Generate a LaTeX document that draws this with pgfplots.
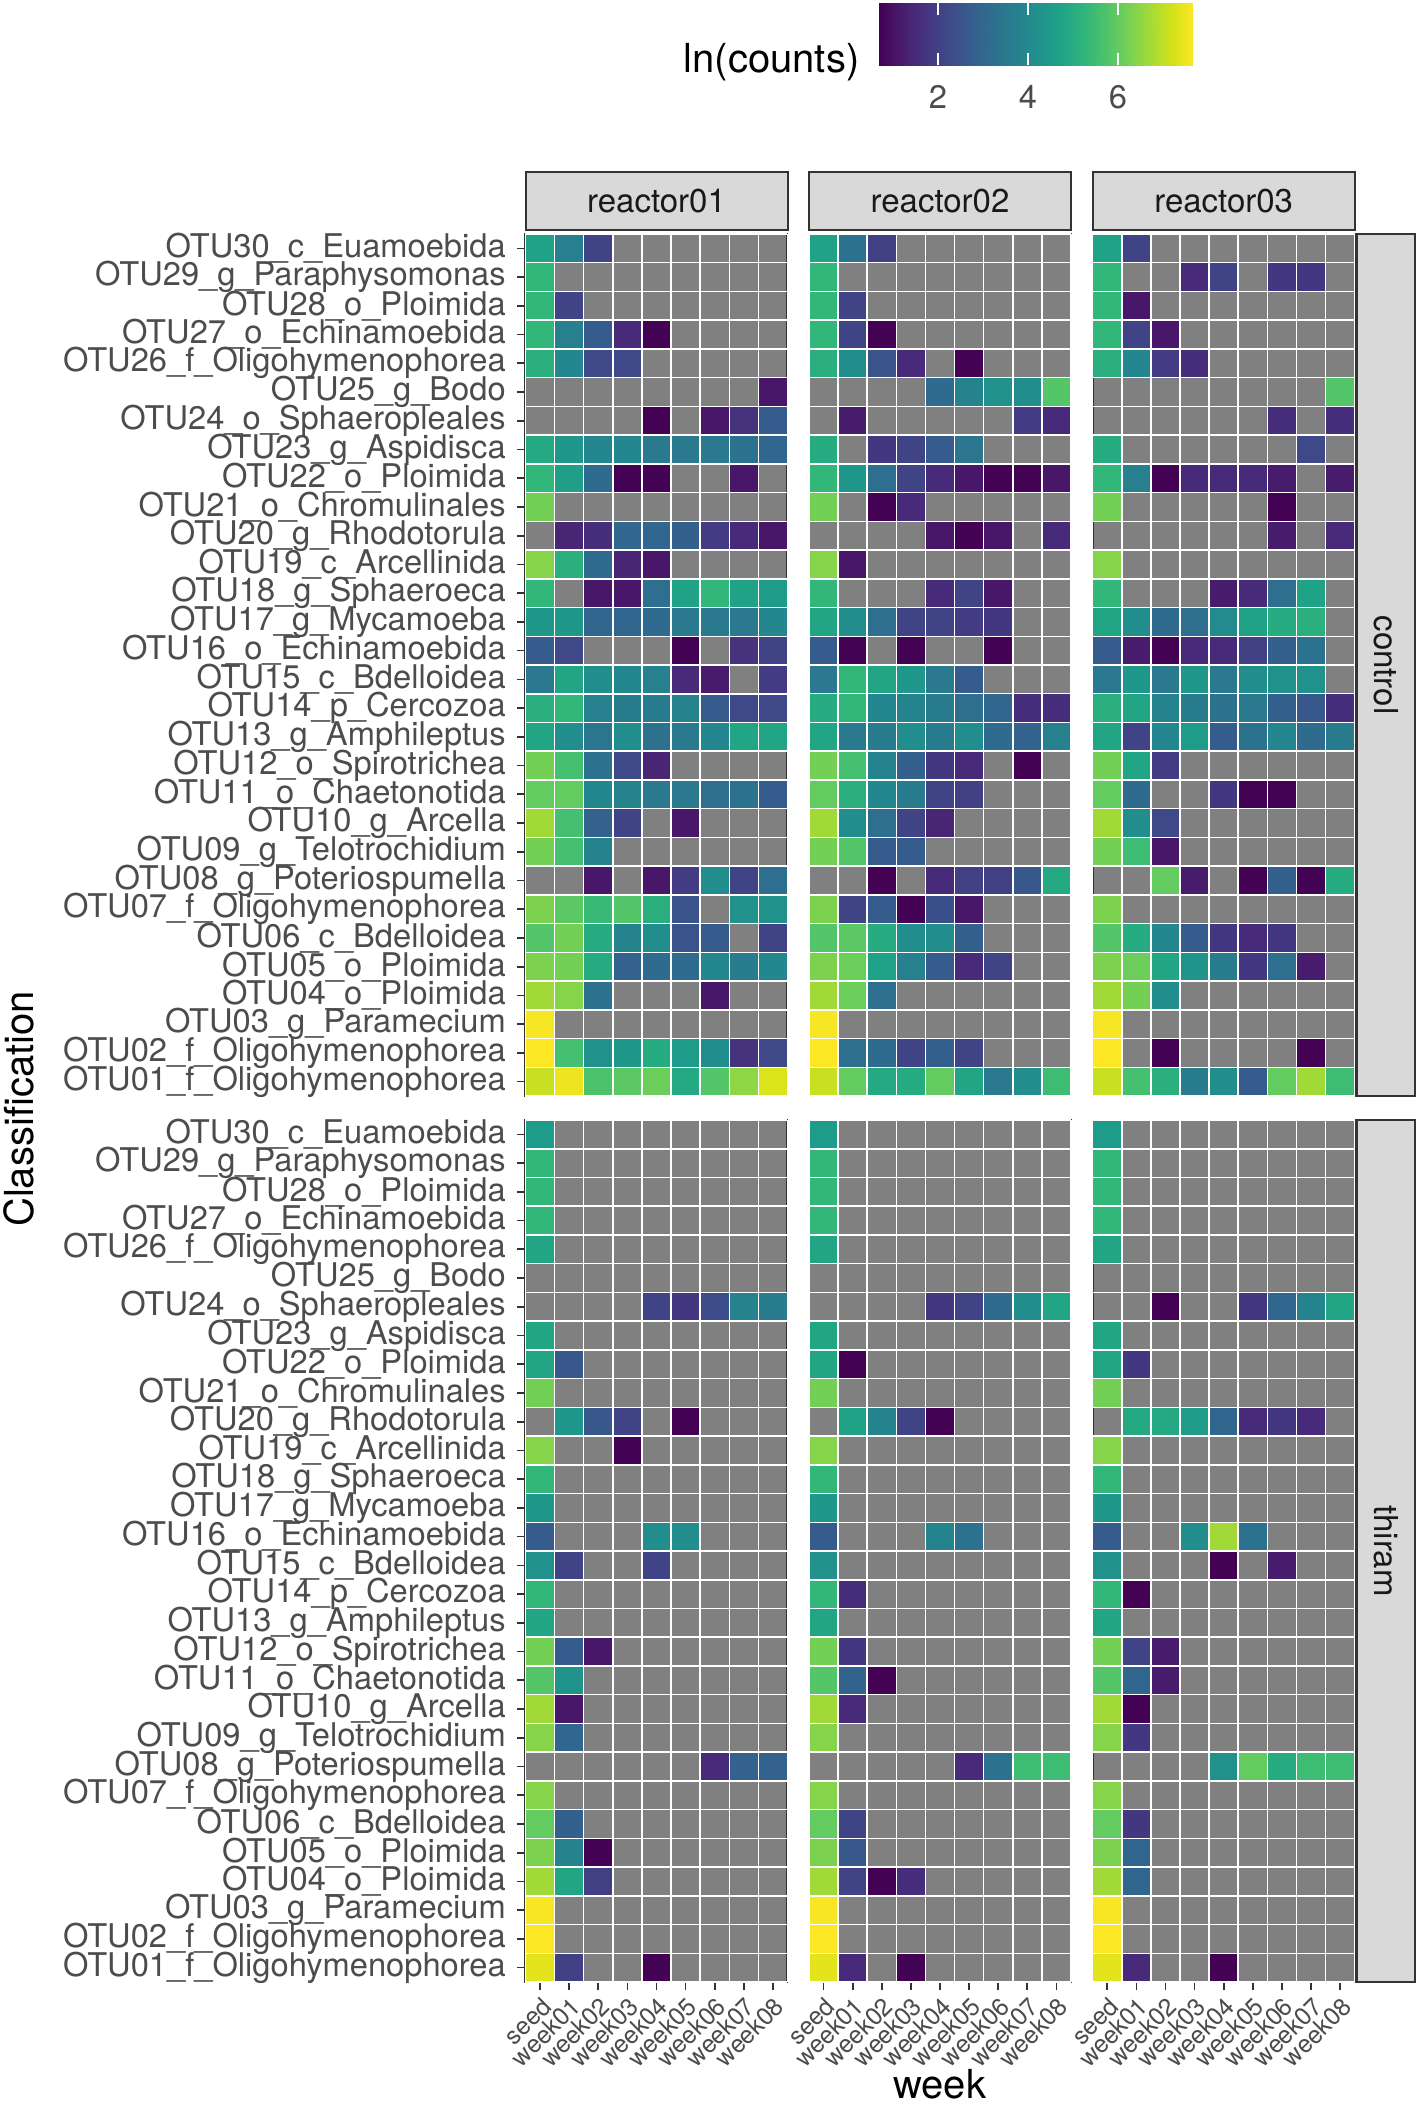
\documentclass[border=0pt]{standalone}
\usepackage{pgfplots}
\pgfplotsset{compat=1.18}
\usepackage{fontspec}
\setmainfont{TeX Gyre Heros}

\pgfdeclareplotmark{cell}{%
  \pgfpathrectangle{\pgfpoint{-4.3667pt}{-4.31pt}}{\pgfpoint{8.7333pt}{8.62pt}}%
  \pgfusepathqfillstroke}

\pgfplotsset{
  panel/.style={
    scale only axis, width=78.6pt, height=258.6pt,
    xmin=-0.5, xmax=8.5, ymin=0.5, ymax=30.5,
    point meta min=0.69, point meta max=7.67,
    colormap name=viridis,
    axis background/.style={fill=black!50},
    extra x ticks={-0.5,0.5,1.5,2.5,3.5,4.5,5.5,6.5,7.5,8.5},
    extra y ticks={0.5,1.5,2.5,3.5,4.5,5.5,6.5,7.5,8.5,9.5,10.5,11.5,12.5,13.5,14.5,15.5,16.5,17.5,18.5,19.5,20.5,21.5,22.5,23.5,24.5,25.5,26.5,27.5,28.5,29.5,30.5},
    extra x tick labels={}, extra y tick labels={},
    extra tick style={grid=major, major grid style={white, line width=0.45pt}, major tick length=0pt},
    xtick={0,...,8}, ytick={1,...,30},
    xtick pos=left, ytick pos=left,
    tick align=outside, major tick length=2.4pt,
    major tick style={black!80, line width=0.5pt},
    axis line style={black!80, line width=0.6pt},
    yticklabel style={font=\fontsize{9.8}{11}\selectfont, text=black!70},
    xticklabel style={font=\fontsize{7.4}{8}\selectfont, text=black!70, rotate=45, anchor=north east, inner sep=1pt},
    xticklabels={seed,week01,week02,week03,week04,week05,week06,week07,week08},
  },
  otulabels/.style={yticklabels={OTU01\_f\_Oligohymenophorea,OTU02\_f\_Oligohymenophorea,OTU03\_g\_Paramecium,OTU04\_o\_Ploimida,OTU05\_o\_Ploimida,OTU06\_c\_Bdelloidea,OTU07\_f\_Oligohymenophorea,OTU08\_g\_Poteriospumella,OTU09\_g\_Telotrochidium,OTU10\_g\_Arcella,OTU11\_o\_Chaetonotida,OTU12\_o\_Spirotrichea,OTU13\_g\_Amphileptus,OTU14\_p\_Cercozoa,OTU15\_c\_Bdelloidea,OTU16\_o\_Echinamoebida,OTU17\_g\_Mycamoeba,OTU18\_g\_Sphaeroeca,OTU19\_c\_Arcellinida,OTU20\_g\_Rhodotorula,OTU21\_o\_Chromulinales,OTU22\_o\_Ploimida,OTU23\_g\_Aspidisca,OTU24\_o\_Sphaeropleales,OTU25\_g\_Bodo,OTU26\_f\_Oligohymenophorea,OTU27\_o\_Echinamoebida,OTU28\_o\_Ploimida,OTU29\_g\_Paraphysomonas,OTU30\_c\_Euamoebida}},
  tilecells/.style={scatter, only marks, mark=cell, point meta=explicit,
    scatter/use mapped color={draw=white, fill=mapped color},
    mark options={line width=0.45pt}},
}

\begin{document}
\begin{tikzpicture}
\path (0,0) rectangle (425.4pt,-632.4pt);

% ---------------- control, reactor01
\begin{axis}[panel, at={(157.65pt,-70.2pt)}, anchor=north west, xtick=\empty, otulabels]
\addplot[tilecells] coordinates {
(0,30)[4.7] (1,30)[3.7] (2,30)[2.1]
(0,29)[5.3]
(0,28)[5.3] (1,28)[2.1]
(0,27)[5.3] (1,27)[3.7] (2,27)[2.7] (3,27)[1.5] (4,27)[0.7]
(0,26)[5.1] (1,26)[3.9] (2,26)[2.2] (3,26)[2.2]
(8,25)[1.1]
(4,24)[0.7] (6,24)[1.1] (7,24)[1.7] (8,24)[2.7]
(0,23)[4.9] (1,23)[4.4] (2,23)[3.9] (3,23)[3.9] (4,23)[3.5] (5,23)[3.5] (6,23)[3.5] (7,23)[3.3] (8,23)[3.0]
(0,22)[5.3] (1,22)[4.6] (2,22)[3.1] (3,22)[0.7] (4,22)[0.7] (7,22)[1.1]
(0,21)[6.2]
(1,20)[1.4] (2,20)[1.6] (3,20)[3.0] (4,20)[3.0] (5,20)[2.8] (6,20)[1.9] (7,20)[1.5] (8,20)[1.1]
(0,19)[6.4] (1,19)[5.1] (2,19)[3.1] (3,19)[1.4] (4,19)[1.1]
(0,18)[5.3] (2,18)[1.1] (3,18)[1.1] (4,18)[3.2] (5,18)[4.7] (6,18)[5.3] (7,18)[4.7] (8,18)[4.5]
(0,17)[4.4] (1,17)[4.4] (2,17)[3.0] (3,17)[3.0] (4,17)[3.1] (5,17)[3.5] (6,17)[3.5] (7,17)[3.5] (8,17)[3.9]
(0,16)[2.7] (1,16)[2.2] (5,16)[0.7] (7,16)[1.7] (8,16)[2.1]
(0,15)[3.5] (1,15)[4.8] (2,15)[4.1] (3,15)[3.9] (4,15)[3.7] (5,15)[1.5] (6,15)[1.2] (8,15)[1.9]
(0,14)[5.1] (1,14)[5.3] (2,14)[3.7] (3,14)[3.6] (4,14)[3.6] (5,14)[3.8] (6,14)[2.7] (7,14)[2.2] (8,14)[2.2]
(0,13)[4.8] (1,13)[4.1] (2,13)[3.4] (3,13)[4.1] (4,13)[3.3] (5,13)[3.5] (6,13)[3.9] (7,13)[4.8] (8,13)[4.8]
(0,12)[6.2] (1,12)[5.6] (2,12)[3.3] (3,12)[2.2] (4,12)[1.4]
(0,11)[6.0] (1,11)[6.0] (2,11)[3.9] (3,11)[3.8] (4,11)[3.5] (5,11)[3.5] (6,11)[3.2] (7,11)[3.3] (8,11)[2.7]
(0,10)[6.7] (1,10)[5.6] (2,10)[2.9] (3,10)[2.1] (5,10)[1.1]
(0,9)[6.2] (1,9)[5.6] (2,9)[3.8]
(2,8)[1.1] (4,8)[1.1] (5,8)[1.9] (6,8)[4.1] (7,8)[2.1] (8,8)[3.2]
(0,7)[6.3] (1,7)[5.9] (2,7)[5.4] (3,7)[5.8] (4,7)[5.1] (5,7)[2.5] (7,7)[4.2] (8,7)[4.2]
(0,6)[5.8] (1,6)[6.2] (2,6)[5.0] (3,6)[3.8] (4,6)[4.1] (5,6)[2.5] (6,6)[2.7] (8,6)[2.1]
(0,5)[6.3] (1,5)[6.2] (2,5)[5.0] (3,5)[2.9] (4,5)[3.1] (5,5)[3.1] (6,5)[3.9] (7,5)[3.6] (8,5)[3.9]
(0,4)[6.7] (1,4)[6.4] (2,4)[3.3] (6,4)[1.1]
(0,3)[7.6]
(0,2)[7.7] (1,2)[5.6] (2,2)[4.2] (3,2)[4.4] (4,2)[5.0] (5,2)[4.5] (6,2)[4.1] (7,2)[1.7] (8,2)[2.2]
(0,1)[7.1] (1,1)[7.5] (2,1)[5.7] (3,1)[5.9] (4,1)[6.1] (5,1)[4.9] (6,1)[5.8] (7,1)[6.5] (8,1)[7.3]
};
\end{axis}

% ---------------- control, reactor02
\begin{axis}[panel, at={(242.7pt,-70.2pt)}, anchor=north west, xtick=\empty, ytick=\empty]
\addplot[tilecells] coordinates {
(0,30)[4.7] (1,30)[3.3] (2,30)[2.0]
(0,29)[5.3]
(0,28)[5.3] (1,28)[2.1]
(0,27)[5.3] (1,27)[2.1] (2,27)[0.7]
(0,26)[5.1] (1,26)[4.1] (2,26)[2.5] (3,26)[1.5] (5,26)[0.7]
(4,25)[3.1] (5,25)[3.8] (6,25)[4.2] (7,25)[4.1] (8,25)[5.8]
(1,24)[1.2] (7,24)[1.9] (8,24)[1.5]
(0,23)[5.0] (2,23)[1.8] (3,23)[2.1] (4,23)[2.7] (5,23)[3.4]
(0,22)[5.3] (1,22)[4.4] (2,22)[3.2] (3,22)[2.1] (4,22)[1.5] (5,22)[1.1] (6,22)[0.7] (7,22)[0.7] (8,22)[1.1]
(0,21)[6.2] (2,21)[0.7] (3,21)[1.5]
(4,20)[1.1] (5,20)[0.7] (6,20)[1.1] (8,20)[1.5]
(0,19)[6.4] (1,19)[1.1]
(0,18)[5.3] (4,18)[1.5] (5,18)[2.1] (6,18)[1.1]
(0,17)[4.8] (1,17)[4.1] (2,17)[3.2] (3,17)[2.1] (4,17)[2.1] (5,17)[1.9] (6,17)[1.8]
(0,16)[2.7] (1,16)[0.7] (3,16)[0.7] (6,16)[0.7]
(0,15)[3.5] (1,15)[5.3] (2,15)[4.8] (3,15)[4.4] (4,15)[3.5] (5,15)[2.7]
(0,14)[5.0] (1,14)[5.3] (2,14)[3.9] (3,14)[3.8] (4,14)[3.6] (5,14)[3.2] (6,14)[3.0] (7,14)[1.6] (8,14)[1.6]
(0,13)[4.8] (1,13)[3.5] (2,13)[3.6] (3,13)[4.1] (4,13)[3.6] (5,13)[4.1] (6,13)[3.1] (7,13)[2.9] (8,13)[3.7]
(0,12)[6.2] (1,12)[5.6] (2,12)[3.8] (3,12)[2.8] (4,12)[1.8] (5,12)[1.5] (7,12)[0.7]
(0,11)[6.0] (1,11)[5.1] (2,11)[3.9] (3,11)[3.6] (4,11)[2.1] (5,11)[2.0]
(0,10)[6.7] (1,10)[4.1] (2,10)[3.2] (3,10)[2.1] (4,10)[1.4]
(0,9)[6.2] (1,9)[5.8] (2,9)[2.7] (3,9)[2.7]
(2,8)[0.7] (4,8)[1.5] (5,8)[2.0] (6,8)[2.0] (7,8)[2.6] (8,8)[4.9]
(0,7)[6.3] (1,7)[2.1] (2,7)[2.7] (3,7)[0.7] (4,7)[2.4] (5,7)[1.1]
(0,6)[5.8] (1,6)[5.9] (2,6)[5.0] (3,6)[4.1] (4,6)[4.1] (5,6)[2.8]
(0,5)[6.3] (1,5)[6.1] (2,5)[4.7] (3,5)[3.7] (4,5)[2.7] (5,5)[1.5] (6,5)[2.1]
(0,4)[6.7] (1,4)[6.1] (2,4)[3.2]
(0,3)[7.6]
(0,2)[7.7] (1,2)[3.2] (2,2)[3.1] (3,2)[2.1] (4,2)[2.8] (5,2)[2.1]
(0,1)[7.1] (1,1)[6.0] (2,1)[4.9] (3,1)[5.0] (4,1)[6.0] (5,1)[4.8] (6,1)[3.5] (7,1)[4.1] (8,1)[5.5]
};
\end{axis}

% ---------------- control, reactor03
\begin{axis}[panel, at={(327.8pt,-70.2pt)}, anchor=north west, xtick=\empty, ytick=\empty]
\addplot[tilecells] coordinates {
(0,30)[4.7] (1,30)[2.1]
(0,29)[5.3] (3,29)[1.5] (4,29)[2.1] (6,29)[1.8] (7,29)[1.8]
(0,28)[5.3] (1,28)[1.1]
(0,27)[5.3] (1,27)[2.1] (2,27)[1.1]
(0,26)[5.1] (1,26)[3.9] (2,26)[1.9] (3,26)[1.6]
(8,25)[5.8]
(6,24)[1.6] (8,24)[1.6]
(0,23)[5.0] (7,23)[2.2]
(0,22)[5.3] (1,22)[3.7] (2,22)[0.7] (3,22)[1.5] (4,22)[1.5] (5,22)[1.5] (6,22)[1.2] (8,22)[1.2]
(0,21)[6.2] (6,21)[0.7]
(6,20)[1.2] (8,20)[1.5]
(0,19)[6.4]
(0,18)[5.3] (4,18)[1.2] (5,18)[1.5] (6,18)[3.2] (7,18)[4.7]
(0,17)[4.8] (1,17)[4.1] (2,17)[3.1] (3,17)[3.2] (4,17)[4.0] (5,17)[4.7] (6,17)[5.0] (7,17)[5.1]
(0,16)[2.7] (1,16)[1.2] (2,16)[0.7] (3,16)[1.5] (4,16)[1.5] (5,16)[2.0] (6,16)[2.8] (7,16)[3.3]
(0,15)[3.5] (1,15)[4.4] (2,15)[3.5] (3,15)[4.4] (4,15)[3.5] (5,15)[4.1] (6,15)[4.2] (7,15)[4.2]
(0,14)[5.1] (1,14)[4.8] (2,14)[3.8] (3,14)[3.6] (4,14)[3.3] (5,14)[3.5] (6,14)[2.8] (7,14)[2.6] (8,14)[1.6]
(0,13)[4.8] (1,13)[2.1] (2,13)[3.9] (3,13)[4.5] (4,13)[2.7] (5,13)[3.3] (6,13)[3.9] (7,13)[3.1] (8,13)[3.6]
(0,12)[6.2] (1,12)[4.8] (2,12)[1.9]
(0,11)[6.0] (1,11)[3.1] (4,11)[1.8] (5,11)[0.7] (6,11)[0.7]
(0,10)[6.7] (1,10)[4.1] (2,10)[2.2]
(0,9)[6.2] (1,9)[5.5] (2,9)[1.1]
(2,8)[6.0] (3,8)[1.2] (5,8)[0.7] (6,8)[2.8] (7,8)[0.7] (8,8)[5.0]
(0,7)[6.3]
(0,6)[5.8] (1,6)[5.0] (2,6)[3.9] (3,6)[2.7] (4,6)[1.8] (5,6)[1.5] (6,6)[1.8]
(0,5)[6.3] (1,5)[6.1] (2,5)[4.8] (3,5)[4.3] (4,5)[3.6] (5,5)[1.8] (6,5)[3.2] (7,5)[1.2]
(0,4)[6.7] (1,4)[6.2] (2,4)[4.1]
(0,3)[7.6]
(0,2)[7.7] (2,2)[0.7] (7,2)[0.7]
(0,1)[7.1] (1,1)[5.6] (2,1)[5.1] (3,1)[3.6] (4,1)[4.1] (5,1)[2.7] (6,1)[6.0] (7,1)[6.7] (8,1)[5.5]
};
\end{axis}

% ---------------- thiram, reactor01
\begin{axis}[panel, at={(157.65pt,-336.0pt)}, anchor=north west, otulabels]
\addplot[tilecells] coordinates {
(0,30)[4.5] (0,29)[5.3] (0,28)[5.3] (0,27)[5.3] (0,26)[4.8]
(4,24)[2.1] (5,24)[1.8] (6,24)[2.3] (7,24)[3.8] (8,24)[3.6]
(0,23)[4.8]
(0,22)[4.8] (1,22)[2.6]
(0,21)[6.2]
(1,20)[4.4] (2,20)[2.6] (3,20)[2.1] (5,20)[0.7]
(0,19)[6.4] (3,19)[0.7]
(0,18)[5.3]
(0,17)[4.4]
(0,16)[2.7] (4,16)[4.1] (5,16)[4.1]
(0,15)[4.2] (1,15)[2.1] (4,15)[2.1]
(0,14)[5.3]
(0,13)[4.8]
(0,12)[6.2] (1,12)[2.7] (2,12)[1.1]
(0,11)[5.8] (1,11)[4.3]
(0,10)[6.7] (1,10)[1.1]
(0,9)[6.4] (1,9)[3.0]
(6,8)[1.5] (7,8)[2.9] (8,8)[2.9]
(0,7)[6.4]
(0,6)[6.0] (1,6)[2.8]
(0,5)[6.3] (1,5)[3.8] (2,5)[0.7]
(0,4)[6.7] (1,4)[4.8] (2,4)[2.0]
(0,3)[7.6]
(0,2)[7.7]
(0,1)[7.4] (1,1)[2.0] (4,1)[0.7]
};
\end{axis}

% ---------------- thiram, reactor02
\begin{axis}[panel, at={(242.7pt,-336.0pt)}, anchor=north west, ytick=\empty]
\addplot[tilecells] coordinates {
(0,30)[4.5] (0,29)[5.3] (0,28)[5.3] (0,27)[5.3] (0,26)[4.8]
(4,24)[1.8] (5,24)[2.1] (6,24)[3.1] (7,24)[4.1] (8,24)[4.8]
(0,23)[4.8]
(0,22)[4.8] (1,22)[0.7]
(0,21)[6.2]
(1,20)[4.7] (2,20)[3.8] (3,20)[2.1] (4,20)[0.7]
(0,19)[6.4]
(0,18)[5.3]
(0,17)[4.4]
(0,16)[2.7] (4,16)[3.8] (5,16)[3.3]
(0,15)[4.2]
(0,14)[5.3] (1,14)[1.6]
(0,13)[4.8]
(0,12)[6.2] (1,12)[1.8]
(0,11)[5.8] (1,11)[2.9] (2,11)[0.7]
(0,10)[6.7] (1,10)[1.5]
(0,9)[6.4]
(5,8)[1.5] (6,8)[3.3] (7,8)[5.5] (8,8)[5.5]
(0,7)[6.4]
(0,6)[6.0] (1,6)[2.1]
(0,5)[6.3] (1,5)[2.6]
(0,4)[6.7] (1,4)[2.1] (2,4)[0.7] (3,4)[1.6]
(0,3)[7.6]
(0,2)[7.7]
(0,1)[7.4] (1,1)[1.5] (3,1)[0.7]
};
\end{axis}

% ---------------- thiram, reactor03
\begin{axis}[panel, at={(327.8pt,-336.0pt)}, anchor=north west, ytick=\empty]
\addplot[tilecells] coordinates {
(0,30)[4.5] (0,29)[5.3] (0,28)[5.3] (0,27)[5.3] (0,26)[4.8]
(2,24)[0.7] (5,24)[1.8] (6,24)[3.0] (7,24)[3.8] (8,24)[4.8]
(0,23)[4.8]
(0,22)[4.8] (1,22)[1.8]
(0,21)[6.2]
(1,20)[4.9] (2,20)[4.9] (3,20)[4.5] (4,20)[3.0] (5,20)[1.5] (6,20)[1.8] (7,20)[1.5]
(0,19)[6.4]
(0,18)[5.3]
(0,17)[4.4]
(0,16)[2.7] (3,16)[4.1] (4,16)[6.7] (5,16)[3.3]
(0,15)[4.2] (4,15)[0.7] (6,15)[1.2]
(0,14)[5.3] (1,14)[0.7]
(0,13)[4.8]
(0,12)[6.2] (1,12)[2.1] (2,12)[1.2]
(0,11)[5.8] (1,11)[3.0] (2,11)[1.2]
(0,10)[6.7] (1,10)[0.7]
(0,9)[6.4] (1,9)[1.8]
(4,8)[4.2] (5,8)[6.0] (6,8)[5.0] (7,8)[5.5] (8,8)[5.5]
(0,7)[6.4]
(0,6)[6.0] (1,6)[1.8]
(0,5)[6.3] (1,5)[3.0]
(0,4)[6.7] (1,4)[3.0]
(0,3)[7.6]
(0,2)[7.7]
(0,1)[7.4] (1,1)[1.5] (4,1)[0.7]
};
\end{axis}

% colour bar (legend), drawn as its own small axis
\begin{axis}[at={(263.7pt,-0.9pt)}, anchor=north west,
  scale only axis, width=94.2pt, height=18.6pt,
  xmin=0.69, xmax=7.67, ymin=0, ymax=1, enlargelimits=false,
  point meta min=0.69, point meta max=7.67, colormap name=viridis,
  axis on top, axis line style={draw=none},
  xtick={2,4,6}, ytick=\empty,
  xtick pos=both, xticklabel pos=left,
  tick align=inside, major tick length=3.7pt,
  major tick style={white, line width=0.6pt},
  xticklabel style={font=\fontsize{9.8}{11}\selectfont, text=black!70, yshift=-2.7pt},
  /pgf/number format/assume math mode=true]
\addplot[surf, shader=interp, mesh/rows=2, point meta=x] coordinates {
(0.69,0) (1.39,0) (2.09,0) (2.78,0) (3.48,0) (4.18,0) (4.88,0) (5.58,0) (6.27,0) (6.97,0) (7.67,0)

(0.69,1) (1.39,1) (2.09,1) (2.78,1) (3.48,1) (4.18,1) (4.88,1) (5.58,1) (6.27,1) (6.97,1) (7.67,1)
};
\end{axis}

% strips
\foreach \x/\lab in {157.65/reactor01, 242.7/reactor02, 327.8/reactor03}{
  \draw[fill=black!15, draw=black!80, line width=0.6pt] (\x pt,-51.6pt) rectangle ++(78.6pt,-17.4pt);
  \node[font=\fontsize{9.9}{11}\selectfont, text=black!90] at ({\x pt+39.3pt},-60.3pt) {\lab};
}
\foreach \y/\lab in {-70.2/control, -336.0/thiram}{
  \draw[fill=black!15, draw=black!80, line width=0.6pt] (407.1pt,\y pt) rectangle ++(17.4pt,-258.6pt);
  \node[font=\fontsize{9.9}{11}\selectfont, text=black!90, rotate=-90] at (415.8pt,{\y pt-129.3pt}) {\lab};
}

% titles
\node[font=\fontsize{12}{14}\selectfont, rotate=90, anchor=north, inner sep=0pt] at (0.9pt,-332.7pt) {Classification};
\node[font=\fontsize{12}{14}\selectfont, anchor=base, inner sep=0pt] at (281.9pt,-629.6pt) {week};
\node[font=\fontsize{12}{14}\selectfont, anchor=east, inner sep=0pt] at (258pt,-18.5pt) {ln(counts)};
\end{tikzpicture}
\end{document}
